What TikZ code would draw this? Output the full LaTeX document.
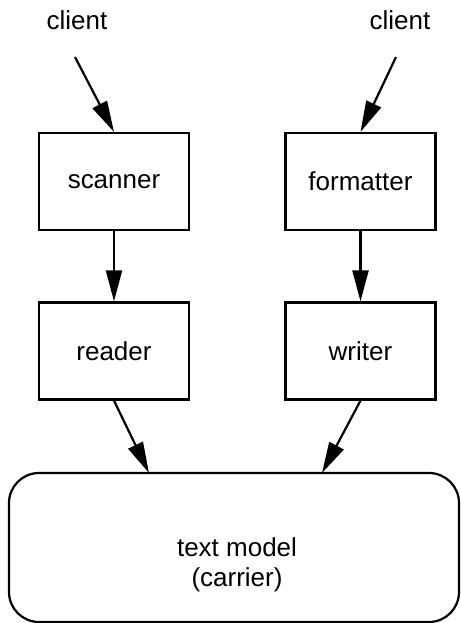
\documentclass[tikz,border=0pt]{standalone}
\usepackage{fontspec}
\setmainfont{Liberation Sans}
\usetikzlibrary{arrows.meta,positioning}

\begin{document}
\begin{tikzpicture}[x=0.5pt,y=-0.5pt,
  box/.style={draw,line width=1.1pt,minimum width=75pt,minimum height=48.5pt,inner sep=0pt,font=\fontsize{13}{15}\selectfont},
  lbl/.style={inner sep=0pt,font=\fontsize{13}{15}\selectfont},
  flow/.style={line width=1.1pt,-{Triangle[length=15.5pt,width=8pt]}}]
\useasboundingbox (0,0) rectangle (461,623);

    % the two pipelines
    \node[box] (scanner) at (114,181.5) {scanner};
    \node[box] (formatter) at (360.5,181.5) {formatter};
    \node[box] (reader) at (114,351) {reader};
    \node[box] (writer) at (360.5,351) {writer};

    % shared carrier below
    \node[draw,line width=1.1pt,rounded corners=15pt,minimum width=225pt,minimum height=74.5pt] (model) at (234,547.5) {};
    \node[lbl,align=center] (modeltext) at (237,565) {text model\\ (carrier)};

    \node[lbl] (clientL) at (77,20) {client};
    \node[lbl] (clientR) at (400,20) {client};

    \coordinate (inL) at (75,57);
    \coordinate (inR) at (396,57);
    \coordinate (mL) at (149,473);
    \coordinate (mR) at (322,473);

\draw[flow] (inL)--(scanner.north);
\draw[flow] (inR)--(formatter.north);
\draw[flow] (scanner)--(reader);
\draw[flow] (formatter)--(writer);
\draw[flow] (reader.south)--(mL);
\draw[flow] (writer.south)--(mR);

\end{tikzpicture}
\end{document}
